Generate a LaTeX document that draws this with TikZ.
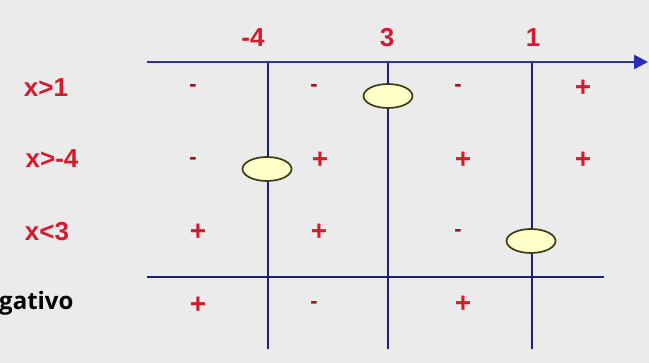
\documentclass[tikz,border=0pt]{standalone}
\usepackage{fontspec}
\setmainfont{Liberation Sans}
\newfontfamily\osans{Open Sans}
\usetikzlibrary{arrows.meta,shapes.geometric}
\definecolor{bgc}{RGB}{235,235,235}
\definecolor{labred}{RGB}{215,25,45}
\definecolor{minred}{RGB}{150,20,30}
\definecolor{axblue}{RGB}{45,45,185}
\definecolor{navy}{RGB}{30,30,125}
\definecolor{elfill}{RGB}{255,255,200}
\definecolor{eldraw}{RGB}{60,60,25}
\begin{document}
\begin{tikzpicture}[x=1pt,y=-1pt,
  lab/.style={text=labred,font=\bfseries\fontsize{26}{28}\selectfont,inner sep=0pt},
  rowlab/.style={text=labred,font=\bfseries\fontsize{26}{28}\selectfont,inner sep=0pt},
  plus/.style={text=labred,font=\bfseries\fontsize{28}{30}\selectfont,inner sep=0pt},
  minus/.style={text=minred,font=\bfseries\fontsize{22}{24}\selectfont,inner sep=0pt},
  vline/.style={draw=navy,line width=1.8pt},
  axis/.style={draw=axblue,line width=2.8pt,-{Triangle[length=14pt,width=14pt]}},
  root/.style={ellipse,draw=eldraw,line width=1.7pt,fill=elfill,minimum width=49pt,minimum height=24pt,inner sep=0pt}
]
\useasboundingbox[fill=bgc] (0,0) rectangle (649,363);
% axis coordinates
\coordinate (axL) at (147,62);
\coordinate (axR) at (648,62);
\coordinate (bL) at (147,277);
\coordinate (bR) at (604,277);
\coordinate (v1t) at (268,62);  \coordinate (v1b) at (268,349);
\coordinate (v2t) at (388,62);  \coordinate (v2b) at (388,349);
\coordinate (v3t) at (532,62);  \coordinate (v3b) at (532,349);
% lines
\draw[vline] (bL) -- (bR);
\draw[vline] (v1t) -- (v1b);
\draw[vline] (v2t) -- (v2b);
\draw[vline] (v3t) -- (v3b);
\draw[axis] (axL) -- (axR);
% root ellipses
\node[root] (e1) at (388,96) {};
\node[root] (e2) at (267,169) {};
\node[root] (e3) at (531,241) {};
% top labels
\node[lab] (tm4) at (253,38) {-4};
\node[lab] (t3) at (387,38) {3};
\node[lab] (t1) at (533,38) {1};
% row labels
\node[rowlab] (r1) at (46,88) {x>1};
\node[rowlab] (r2) at (52,159) {x>-4};
\node[rowlab] (r3) at (47,232) {x<3};
\node[anchor=base west,inner sep=0pt,font=\osans\bfseries\fontsize{24}{26}\selectfont] (neg) at (-1,310) {gativo};
% signs row 1
\node[minus] (s11) at (193,88) {-};
\node[minus] (s12) at (314,88) {-};
\node[minus] (s13) at (458,88) {-};
\node[plus] (s14) at (583,88) {+};
% row 2
\node[minus] (s21) at (193,161) {-};
\node[plus] (s22) at (320,160) {+};
\node[plus] (s23) at (463,160) {+};
\node[plus] (s24) at (583,160) {+};
% row 3
\node[plus] (s31) at (198,232) {+};
\node[plus] (s32) at (319,232) {+};
\node[minus] (s33) at (458,233) {-};
% row 4
\node[plus] (s41) at (198,305) {+};
\node[minus] (s42) at (314,305) {-};
\node[plus] (s43) at (463,304) {+};
\end{tikzpicture}
\end{document}
